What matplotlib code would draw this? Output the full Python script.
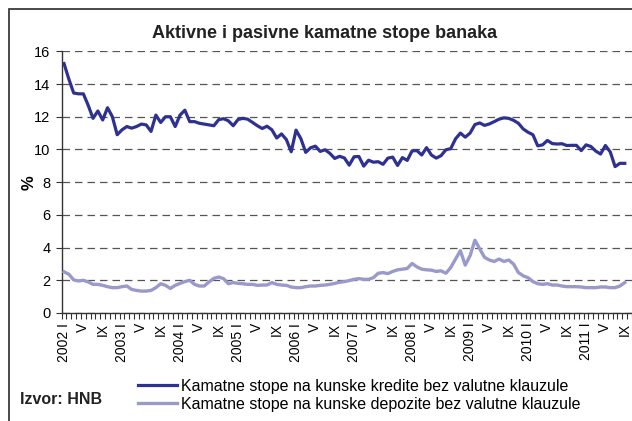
import numpy as np
import matplotlib
matplotlib.use("Agg")
import matplotlib.pyplot as plt
from matplotlib.patches import Rectangle

plt.rcParams['font.family'] = ['Liberation Sans', 'DejaVu Sans']

#---Data--- monthly, 2002 I .. 2011 IX

years = list(range(2002, 2012))

loans = [15.25, 14.3, 13.45, 13.4, 13.4, 12.7, 11.9, 12.35, 11.8, 12.55, 12.0, 10.9,
         11.2, 11.4, 11.3, 11.4, 11.55, 11.5, 11.1, 12.1, 11.65, 12.0, 12.0, 11.4,
         12.1, 12.4, 11.7, 11.7, 11.6, 11.55, 11.5, 11.45, 11.82, 11.88, 11.75, 11.45,
         11.83, 11.9, 11.85, 11.65, 11.45, 11.28, 11.42, 11.2, 10.7, 10.95, 10.6, 9.86,
         11.18, 10.66, 9.82, 10.1, 10.2, 9.88, 9.98, 9.76, 9.45, 9.58, 9.48, 9.04,
         9.55, 9.57, 8.98, 9.34, 9.22, 9.25, 9.09, 9.47, 9.53, 9.02, 9.5, 9.33,
         9.91, 9.93, 9.66, 10.11, 9.66, 9.47, 9.62, 9.98, 10.05, 10.65, 11.0, 10.75,
         11.0, 11.52, 11.62, 11.47, 11.56, 11.7, 11.85, 11.93, 11.9, 11.78, 11.6, 11.25,
         11.05, 10.9, 10.22, 10.28, 10.55, 10.36, 10.33, 10.35, 10.24, 10.25, 10.25, 9.93,
         10.28, 10.18, 9.9, 9.72, 10.24, 9.85, 8.95, 9.15, 9.15]

deposits = [2.52, 2.37, 2.02, 1.96, 2.0, 1.9, 1.75, 1.75, 1.69, 1.61, 1.55, 1.55,
            1.61, 1.65, 1.44, 1.38, 1.34, 1.34, 1.38, 1.55, 1.79, 1.69, 1.5, 1.69,
            1.81, 1.92, 2.0, 1.75, 1.65, 1.65, 1.9, 2.12, 2.2, 2.1, 1.79, 1.86,
            1.81, 1.79, 1.75, 1.75, 1.69, 1.71, 1.71, 1.86, 1.75, 1.71, 1.69, 1.59,
            1.55, 1.55, 1.61, 1.65, 1.65, 1.69, 1.71, 1.75, 1.81, 1.88, 1.92, 1.98,
            2.06, 2.1, 2.06, 2.06, 2.16, 2.43, 2.47, 2.41, 2.54, 2.64, 2.68, 2.72,
            3.03, 2.82, 2.68, 2.64, 2.62, 2.54, 2.58, 2.43, 2.78, 3.3, 3.81, 2.93,
            3.5, 4.45, 3.92, 3.4, 3.24, 3.15, 3.3, 3.15, 3.24, 2.99, 2.47, 2.27,
            2.16, 1.92, 1.79, 1.75, 1.79, 1.71, 1.71, 1.65, 1.61, 1.61, 1.61, 1.59,
            1.55, 1.55, 1.55, 1.59, 1.59, 1.55, 1.55, 1.65, 1.86]

label_loans = "Kamatne stope na kunske kredite bez valutne klauzule"
label_deposits = "Kamatne stope na kunske depozite bez valutne klauzule"

#---Figure---

W, H = 632, 421
fig = plt.figure(figsize=(W / 100, H / 100), dpi=100)

# outer frame (runs off the right / bottom edge like the source)
fig.patches.append(Rectangle((9 / W, -0.2), 1.2, 1.2 - 9 / H, transform=fig.transFigure,
                             fill=False, edgecolor="#3a3a3a", linewidth=1.3))

ax = fig.add_axes([61.6 / W, 1 - 313 / H, 1 - 61.6 / W, (313 - 51.3) / H])

x = np.arange(len(loans))
ax.plot(x, loans, color="#2E3192", linewidth=2.3, label=label_loans, zorder=3)
ax.plot(np.arange(len(deposits)), deposits, color="#9999CC", linewidth=2.4,
        label=label_deposits, zorder=3)

ax.set_ylim(0, 16)
ax.set_yticks(range(0, 17, 2))
ax.set_xlim(-0.5, 117.06)

pos = []
labs = []
for k, y in enumerate(years):
    base = k * 12
    for m, txt in [(0, "%d I" % y), (4, "V"), (8, "IX")]:
        pos.append(base + m)
        labs.append(txt)
ax.set_xticks(pos)
ax.set_xticklabels(labs, rotation=90, fontsize=10)
ax.set_xticks(np.arange(-0.5, 118, 1), minor=True)
ax.tick_params(axis="x", which="major", length=0, pad=7)
ax.tick_params(axis="x", which="minor", length=4, width=0.8, color="#333333", direction="out")
ax.tick_params(axis="y", length=4, width=0.8, color="#333333", labelsize=10.5, pad=4)

ax.grid(axis="y", color="#555555", linestyle=(0, (6, 4)), linewidth=0.9)
for s in ["top", "right"]:
    ax.spines[s].set_visible(False)
for s in ["left", "bottom"]:
    ax.spines[s].set_color("#333333")
    ax.spines[s].set_linewidth(1.0)

ax.set_ylabel("%", fontsize=12, fontweight="bold")
ax.yaxis.set_label_coords((37 - 61.6) / 570.4, 0.5)

fig.text(325 / W, 1 - 33 / H, "Aktivne i pasivne kamatne stope banaka", ha="center", va="center",
         fontsize=13, fontweight="bold", color="#222222")

fig.text(20 / W, 1 - 399 / H, "Izvor: HNB", ha="left", va="center", fontsize=11.5,
         fontweight="bold", color="#222222")

fig.legend(loc="upper left", bbox_to_anchor=(138 / W, 1 - 378.5 / H), frameon=False,
           fontsize=11.5, handlelength=2.45, handletextpad=0.22, labelspacing=0.2,
           borderpad=0, borderaxespad=0)

fig.savefig("out.png", dpi=100)
